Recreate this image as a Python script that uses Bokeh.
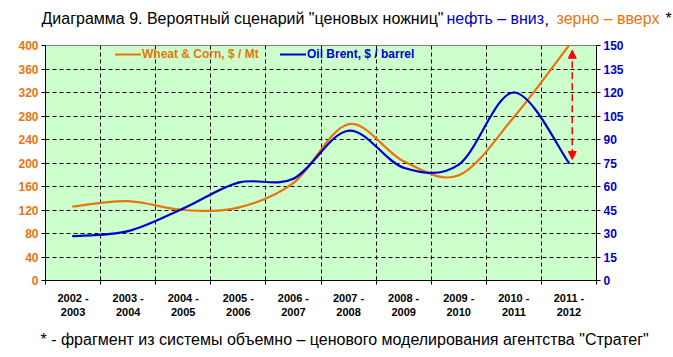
import numpy as np
from bokeh.plotting import figure
from bokeh.layouts import column
from bokeh.models import (Range1d, LinearAxis, FixedTicker, Legend, LegendItem,
                          Arrow, NormalHead, ColumnDataSource)
from bokeh.core.properties import value
from bokeh.embed import file_html
from bokeh.resources import INLINE

# ---- data ----
categories = ["2002 -\n2003", "2003 -\n2004", "2004 -\n2005", "2005 -\n2006", "2006 -\n2007",
              "2007 -\n2008", "2008 -\n2009", "2009 -\n2010", "2010 -\n2011", "2011 -\n2012"]
wheat = [126, 135, 120, 124, 166, 266, 203, 179, 278, 400]      # $ / Mt (left axis)
oil = [28.3, 31.5, 46.0, 62.5, 65.0, 95.6, 72.0, 74.0, 120.0, 75.0]  # $ / barrel (right axis)
left_ticks = [0, 40, 80, 120, 160, 200, 240, 280, 320, 360, 400]
right_ticks = [0, 15, 30, 45, 60, 75, 90, 105, 120, 135, 150]

title_texts = ["Диаграмма 9. Вероятный сценарий \"ценовых ножниц\"", "нефть – вниз", ",",
               "зерно – вверх", "*"]
footnote_text = "* - фрагмент из системы объемно – ценового моделирования агентства \"Стратег\""

ORANGE = "#E8740E"
BLUE = "#0000CC"
FONT = "Liberation Sans"
W = 673

n = len(categories)
xs = np.arange(n) + 0.5


def smooth_segments(xv, yv):
    """Bezier control points for a smoothed (Excel-like) line through the points."""
    x0, y0, x1, y1, cx0, cy0, cx1, cy1 = [], [], [], [], [], [], [], []
    m = len(xv)
    for i in range(m - 1):
        a = max(i - 1, 0)
        b = min(i + 2, m - 1)
        x0.append(xv[i]); y0.append(yv[i])
        x1.append(xv[i + 1]); y1.append(yv[i + 1])
        cx0.append(xv[i] + (xv[i + 1] - xv[a]) / 6.0)
        cy0.append(yv[i] + (yv[i + 1] - yv[a]) / 6.0)
        cx1.append(xv[i + 1] - (xv[b] - xv[i]) / 6.0)
        cy1.append(yv[i + 1] - (yv[b] - yv[i]) / 6.0)
    return ColumnDataSource(dict(x0=x0, y0=y0, x1=x1, y1=y1, cx0=cx0, cy0=cy0, cx1=cx1, cy1=cy1))


def text_strip(height):
    f = figure(width=W, height=height, x_range=Range1d(0, W), y_range=Range1d(0, height),
               output_backend="svg", toolbar_location=None, x_axis_type=None, y_axis_type=None,
               min_border=0, min_border_left=0, min_border_right=0, min_border_top=0,
               min_border_bottom=0, background_fill_color="white", border_fill_color="white")
    f.outline_line_color = None
    f.xgrid.visible = False
    f.ygrid.visible = False
    try:
        f.frame_align = False
    except Exception:
        pass
    return f


# ---- title strip (multi-coloured) ----
TH = 30
tfig = text_strip(TH)
tsrc = ColumnDataSource(dict(x=[41, 446, 544, 556, 665], y=[12] * 5, t=title_texts,
                             c=["black", BLUE, "black", ORANGE, "black"],
                             s=["16px", "16px", "16px", "16px", "16px"]))
tfig.text(x="x", y="y", text="t", text_color="c", source=tsrc, text_font=value(FONT),
          text_font_size="s", text_baseline="middle", text_align="left")

# ---- main chart ----
MH = 290
p = figure(width=W, height=MH, x_range=Range1d(0, n), y_range=Range1d(0, 400),
           output_backend="svg", toolbar_location=None,
           min_border_left=45, min_border_right=77, min_border_top=15, min_border_bottom=37,
           background_fill_color="#CCFFCC", border_fill_color="white")
p.outline_line_color = "#808080"
p.extra_y_ranges = {"oil": Range1d(0, 150)}
try:
    p.frame_align = False
except Exception:
    pass

xa = p.xaxis[0]
xa.ticker = FixedTicker(ticks=list(xs), minor_ticks=list(range(0, n + 1)))
xa.major_label_overrides = {float(v): c for v, c in zip(xs, categories)}
xa.major_tick_line_color = None
xa.minor_tick_in = 4
xa.minor_tick_out = 4
xa.minor_tick_line_color = "black"
xa.axis_line_color = "black"
xa.major_label_text_font = FONT
xa.major_label_text_font_style = "bold"
xa.major_label_text_font_size = "11px"
xa.major_label_text_color = "black"
xa.major_label_standoff = 5

ya = p.yaxis[0]
ya.ticker = FixedTicker(ticks=left_ticks)
ya.major_tick_in = 0
ya.major_tick_out = 4
ya.minor_tick_line_color = None
ya.axis_line_color = "black"
ya.major_label_text_font = FONT
ya.major_label_text_font_style = "bold"
ya.major_label_text_font_size = "12px"
ya.major_label_text_color = ORANGE
ya.major_label_standoff = 3

ra = LinearAxis(y_range_name="oil", ticker=FixedTicker(ticks=right_ticks))
ra.major_tick_in = 0
ra.major_tick_out = 4
ra.minor_tick_line_color = None
ra.axis_line_color = "black"
ra.major_label_text_font = FONT
ra.major_label_text_font_style = "bold"
ra.major_label_text_font_size = "12px"
ra.major_label_text_color = BLUE
ra.major_label_standoff = 3
p.add_layout(ra, "right")

p.xgrid.ticker = FixedTicker(ticks=list(range(1, n)))
p.ygrid.ticker = FixedTicker(ticks=left_ticks[1:-1])
for g in (p.xgrid[0], p.ygrid[0]):
    g.grid_line_color = "black"
    g.grid_line_dash = "4 3"
    g.grid_line_width = 1

r_wheat = p.bezier(x0="x0", y0="y0", x1="x1", y1="y1", cx0="cx0", cy0="cy0", cx1="cx1", cy1="cy1",
                   source=smooth_segments(xs, wheat), line_color=ORANGE, line_width=2.2,
                   line_cap="round")
r_oil = p.bezier(x0="x0", y0="y0", x1="x1", y1="y1", cx0="cx0", cy0="cy0", cx1="cx1", cy1="cy1",
                 source=smooth_segments(xs, oil), line_color=BLUE, line_width=2.2,
                 line_cap="round", y_range_name="oil")

for item_label, rend, col, loc in [("Wheat & Corn, $ / Mt", r_wheat, ORANGE, (70, 219)),
                                   ("Oil Brent, $ / barrel", r_oil, BLUE, (235, 219))]:
    leg = Legend(items=[LegendItem(label=item_label, renderers=[rend])], location=loc,
                 orientation="horizontal", background_fill_alpha=0, border_line_color=None,
                 padding=0, margin=0, spacing=0, label_standoff=1,
                 glyph_width=26, glyph_height=12, label_height=12,
                 label_text_color=col, label_text_font=FONT, label_text_font_style="bold",
                 label_text_font_size="12px")
    p.add_layout(leg)

scale_ratio = 400.0 / 150.0
p.add_layout(Arrow(x_start=xs[-1] + 0.06, y_start=wheat[-1] - 8,
                   x_end=xs[-1] + 0.06, y_end=oil[-1] * scale_ratio + 6,
                   line_color="#FF0000", line_width=1.5, line_dash="7 4",
                   start=NormalHead(size=8, fill_color="#FF0000", line_color="#FF0000"),
                   end=NormalHead(size=8, fill_color="#FF0000", line_color="#FF0000")))

# ---- footnote strip ----
FH = 357 - TH - MH
ffig = text_strip(FH)
fsrc = ColumnDataSource(dict(x=[40], y=[FH - 19], t=[footnote_text]))
ffig.text(x="x", y="y", text="t", source=fsrc, text_color="black", text_font=value(FONT),
          text_font_size="16px", text_baseline="middle", text_align="left")

layout = column(tfig, p, ffig, spacing=0)
open("out.html", "w").write(file_html(layout, INLINE))
